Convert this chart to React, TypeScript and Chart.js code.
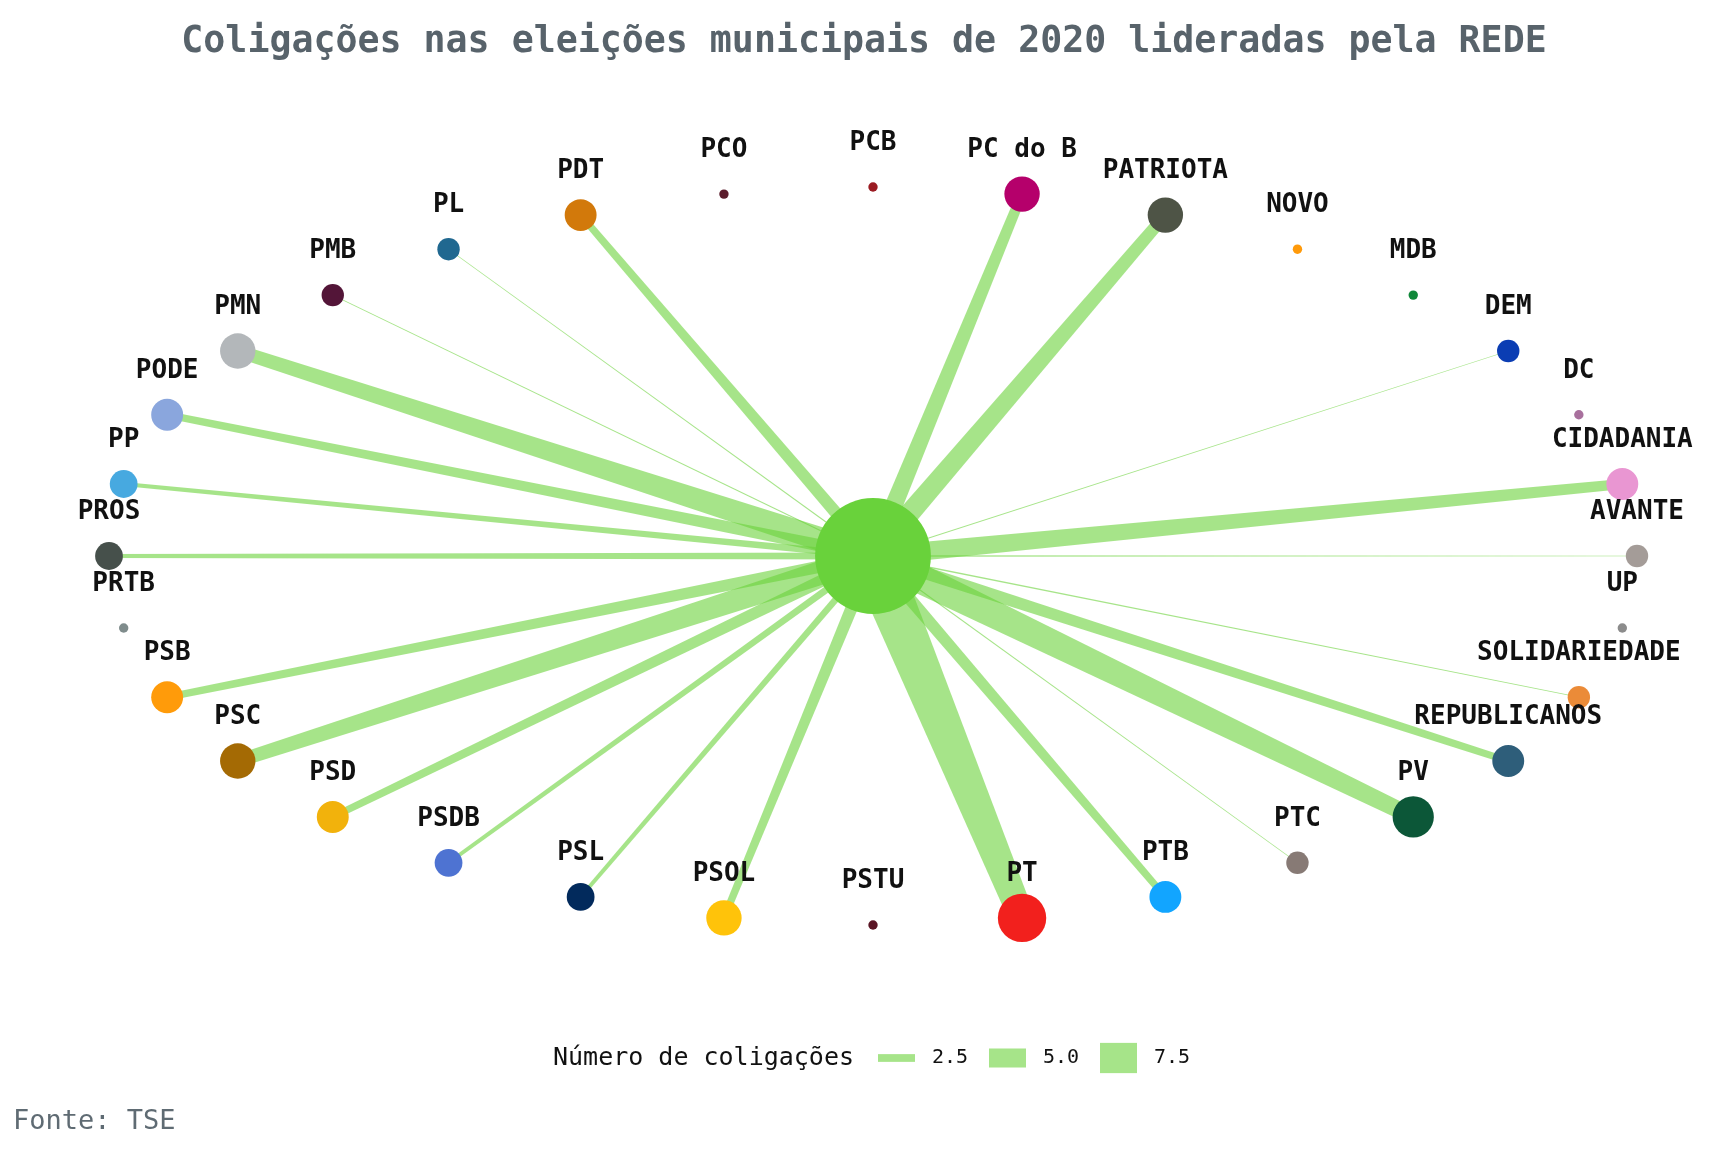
import React, { useEffect, useRef } from "react";
import { Chart, registerables } from "chart.js";

Chart.register(...registerables);

// Parties in circle-layout order (counter-clockwise from the right, alphabetical)
const parties = [
  "AVANTE", "CIDADANIA", "DC", "DEM", "MDB", "NOVO", "PATRIOTA", "PC do B",
  "PCB", "PCO", "PDT", "PL", "PMB", "PMN", "PODE", "PP",
  "PROS", "PRTB", "PSB", "PSC", "PSD", "PSDB", "PSL", "PSOL",
  "PSTU", "PT", "PTB", "PTC", "PV", "REPUBLICANOS", "SOLIDARIEDADE", "UP",
];
// Node size value for each party
const nodeValues = [
  1, 3, 0, 1, 0, 0, 4, 4,
  0, 0, 3, 1, 1, 4, 3, 2,
  2, 0, 3, 4, 3, 2, 2, 4,
  0, 9, 3, 1, 6, 3, 1, 0,
];
// Number of coalitions (edge weight REDE -> party)
const coalitions = [
  1, 4, 0, 1, 0, 0, 4.5, 4,
  0, 0, 3, 1, 1, 5, 3, 2,
  2, 0, 3, 5, 3, 2, 2, 3,
  0, 9, 3, 1, 6, 3, 1, 0,
];
const partyColors = [
  "#A49C98", "#E996D2", "#A8709D", "#0B3DB3", "#10883A", "#FF9A0A", "#4E5446", "#B5006B",
  "#9B1B22", "#5B1C2C", "#D2790B", "#206890", "#531538", "#B3B7BA", "#8AA6DD", "#47A9E0",
  "#46504B", "#7F8C8C", "#FF9B0A", "#A46A04", "#F2B20C", "#4E73D2", "#022A5C", "#FFC30A",
  "#5A1524", "#F2201D", "#12A5FF", "#877A75", "#0C5738", "#2E5E7A", "#EB8B38", "#8C8C8C",
];
const centerParty = "REDE";
const centerTotal = 67;
const centerColor = "#69D23B";
const legendBreaks = [2.5, 5.0, 7.5];
const legendLabels = ["2.5", "5.0", "7.5"];

const titleText = "Coligações nas eleições municipais de 2020 lideradas pela REDE";
const legendTitle = "Número de coligações";
const captionText = "Fonte: TSE";

const MONO = '"DejaVu Sans Mono", "Liberation Mono", monospace';
const EDGE_RGBA = "rgba(106,210,58,0.6)";

const nodeRadius = (v: number) => (9.4 + 13 * Math.sqrt(v)) / 2;
const edgeWidth = (v: number) => 1 + (v - 1) * 4.5;

const X_MIN = -873 / 764;
const X_MAX = (1728 - 873) / 764;
const Y_MIN = -(1152 - 556) / 369;
const Y_MAX = 556 / 369;

export default function App() {
  const ref = useRef<HTMLCanvasElement | null>(null);

  useEffect(() => {
    const canvas = ref.current;
    if (!canvas) return;
    const n = parties.length;
    const pts = parties.map((_, i) => {
      const a = (i * 2 * Math.PI) / n;
      return { x: Math.cos(a), y: Math.sin(a) };
    });

    const edgePlugin = {
      id: "edges",
      beforeDatasetsDraw(chart: any) {
        const ctx = chart.ctx;
        const xs = chart.scales.x;
        const ys = chart.scales.y;
        const cx = xs.getPixelForValue(0);
        const cy = ys.getPixelForValue(0);
        ctx.save();
        ctx.fillStyle = EDGE_RGBA;
        coalitions.forEach((v, i) => {
          if (v <= 0) return;
          const px = xs.getPixelForValue(pts[i].x);
          const py = ys.getPixelForValue(pts[i].y);
          const dx = px - cx;
          const dy = py - cy;
          const len = Math.hypot(dx, dy);
          const nx = -dy / len;
          const ny = dx / len;
          const w = edgeWidth(v);
          const hc = (w * 1.3) / 2;
          const hn = (w * 0.7) / 2;
          ctx.beginPath();
          ctx.moveTo(cx + nx * hc, cy + ny * hc);
          ctx.lineTo(px + nx * hn, py + ny * hn);
          ctx.lineTo(px - nx * hn, py - ny * hn);
          ctx.lineTo(cx - nx * hc, cy - ny * hc);
          ctx.closePath();
          ctx.fill();
        });
        ctx.restore();
      },
    };

    const textPlugin = {
      id: "texts",
      afterDraw(chart: any) {
        const ctx = chart.ctx;
        const xs = chart.scales.x;
        const ys = chart.scales.y;
        ctx.save();
        // node labels
        ctx.font = `bold 26px ${MONO}`;
        ctx.fillStyle = "#111111";
        ctx.textAlign = "center";
        ctx.textBaseline = "middle";
        parties.forEach((p, i) => {
          const px = xs.getPixelForValue(pts[i].x);
          const py = ys.getPixelForValue(pts[i].y);
          ctx.fillText(p, px, py - 44);
        });
        // title
        ctx.font = `bold 36.6px ${MONO}`;
        ctx.fillStyle = "#58636B";
        ctx.fillText(titleText, 864, 42);
        // legend
        ctx.textAlign = "left";
        ctx.font = `25px ${MONO}`;
        ctx.fillStyle = "#111111";
        const ly = 1058;
        ctx.fillText(legendTitle, 553, ly);
        const keyX = [878, 989, 1100];
        legendBreaks.forEach((b, k) => {
          const w = edgeWidth(b);
          ctx.fillStyle = EDGE_RGBA;
          ctx.fillRect(keyX[k], ly - w / 2, 37, w);
          ctx.fillStyle = "#111111";
          ctx.font = `20px ${MONO}`;
          ctx.fillText(legendLabels[k], keyX[k] + 54, ly);
        });
        // caption
        ctx.font = `27px ${MONO}`;
        ctx.fillStyle = "#5F6B73";
        ctx.fillText(captionText, 13, 1122);
        ctx.restore();
      },
    };

    const chart = new Chart(canvas, {
      type: "scatter",
      data: {
        datasets: [
          {
            label: "Partidos",
            data: pts,
            pointRadius: nodeValues.map((v) => nodeRadius(v)),
            pointBackgroundColor: partyColors,
            pointBorderWidth: 0,
            pointHoverRadius: nodeValues.map((v) => nodeRadius(v)),
            clip: false,
          },
          {
            label: centerParty,
            data: [{ x: 0, y: 0 }],
            pointRadius: nodeRadius(centerTotal),
            pointBackgroundColor: centerColor,
            pointBorderWidth: 0,
            clip: false,
          },
        ],
      },
      options: {
        animation: false,
        responsive: false,
        events: [],
        layout: { padding: 0, autoPadding: false },
        plugins: {
          legend: { display: false },
          tooltip: { enabled: false },
          title: { display: false },
        },
        scales: {
          x: { type: "linear", display: false, min: X_MIN, max: X_MAX },
          y: { type: "linear", display: false, min: Y_MIN, max: Y_MAX },
        },
      },
      plugins: [edgePlugin, textPlugin],
    });
    return () => chart.destroy();
  }, []);

  return (
    <div style={{ position: "absolute", left: 0, top: 0, width: 1728, height: 1152, background: "#ffffff" }}>
      <canvas ref={ref} width={1728} height={1152} />
    </div>
  );
}
